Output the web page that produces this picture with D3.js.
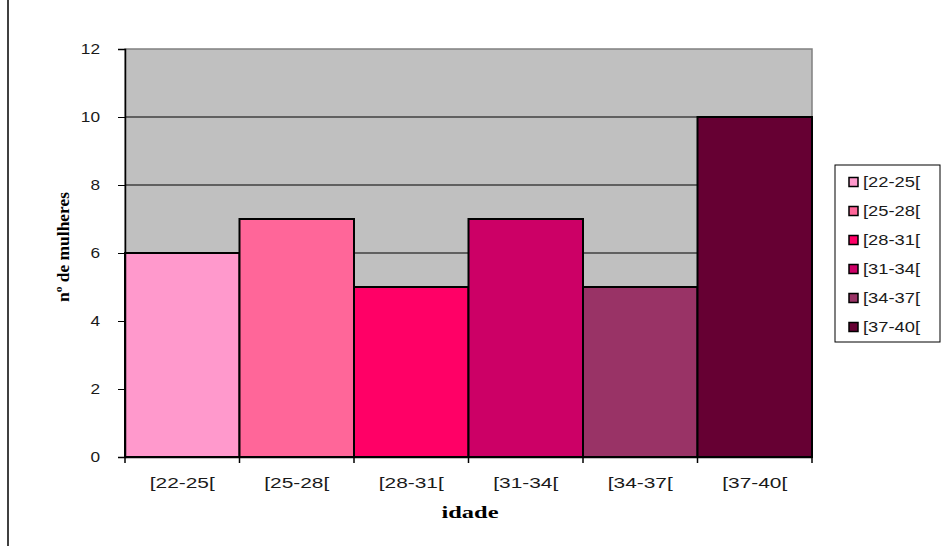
<!DOCTYPE html>
<html><head><meta charset="utf-8">
<script src="https://cdn.jsdelivr.net/npm/d3@7"></script>
<style>body{margin:0;background:#fff}svg{display:block}</style>
</head><body>
<script>
const categories = ["[22-25[", "[25-28[", "[28-31[", "[31-34[", "[34-37[", "[37-40["];
const values = [6, 7, 5, 7, 5, 10];
const colors = ["#FF99CC", "#FF6699", "#FF0066", "#CC0066", "#993366", "#660033"];
const yTicks = [0, 2, 4, 6, 8, 10, 12];

const W = 943, H = 546;
const svg = d3.select("body").append("svg").attr("width", W).attr("height", H);

// left border line
svg.append("line").attr("x1", 8).attr("x2", 8).attr("y1", 0).attr("y2", 546)
  .attr("stroke", "#000").attr("stroke-width", 1.5);

const L = 125, R = 812, T = 49, B = 457;
const x = d3.scaleBand().domain(categories).range([L, R]).padding(0);
const y = d3.scaleLinear().domain([0, 12]).range([B, T]);

// plot background
svg.append("rect").attr("x", L).attr("y", T).attr("width", R - L).attr("height", B - T)
  .attr("fill", "#C0C0C0").attr("stroke", "#808080").attr("stroke-width", 1.5);

// gridlines
svg.append("g").selectAll("line").data(yTicks.filter(d => d > 0 && d < 12)).join("line")
  .attr("x1", L).attr("x2", R).attr("y1", d => y(d)).attr("y2", d => y(d))
  .attr("stroke", "#000").attr("stroke-width", 1);

// bars
svg.append("g").selectAll("rect").data(values).join("rect")
  .attr("x", (d, i) => x(categories[i]))
  .attr("y", d => y(d))
  .attr("width", x.bandwidth())
  .attr("height", d => y(0) - y(d))
  .attr("fill", (d, i) => colors[i])
  .attr("stroke", "#000").attr("stroke-width", 2);

// y axis
const yAxis = svg.append("g").attr("transform", `translate(${L},0)`)
  .call(d3.axisLeft(y).tickValues(yTicks).tickSize(7).tickPadding(18));
yAxis.select(".domain").attr("stroke", "#000").attr("stroke-width", 1.5);
yAxis.selectAll(".tick line").attr("stroke", "#000");
yAxis.selectAll("text").attr("font-family", "Liberation Sans, Arial, sans-serif")
  .attr("font-size", 15).attr("fill", "#1a1a1a")
  .attr("transform", "scale(1.15,1)")
  .attr("x", -25 / 1.15);

// x axis
const xAxis = svg.append("g").attr("transform", `translate(0,${B})`)
  .call(d3.axisBottom(x).tickSize(0).tickPadding(20));
xAxis.select(".domain").attr("stroke", "#000").attr("stroke-width", 1.5);
xAxis.selectAll("text").attr("font-family", "Liberation Sans, Arial, sans-serif")
  .attr("font-size", 15).attr("fill", "#1a1a1a")
  .attr("textLength", 65).attr("lengthAdjust", "spacingAndGlyphs");
// boundary ticks
const bounds = categories.map(c => x(c)).concat([x(categories[categories.length - 1]) + x.bandwidth()]);
svg.append("g").selectAll("line").data(bounds).join("line")
  .attr("x1", d => d).attr("x2", d => d).attr("y1", B).attr("y2", B + 6)
  .attr("stroke", "#000").attr("stroke-width", 1.5);

// axis titles
svg.append("text").attr("x", 470).attr("y", 518).attr("text-anchor", "middle")
  .attr("font-family", "Liberation Serif, Times New Roman, serif").attr("font-weight", "bold")
  .attr("font-size", 17).attr("textLength", 57).attr("lengthAdjust", "spacingAndGlyphs")
  .text("idade");
svg.append("text").attr("transform", "translate(69,247) rotate(-90)").attr("text-anchor", "middle")
  .attr("font-family", "Liberation Serif, Times New Roman, serif").attr("font-weight", "bold")
  .attr("font-size", 17).attr("textLength", 110).attr("lengthAdjust", "spacingAndGlyphs")
  .text("nº de mulheres");

// legend
const lg = svg.append("g");
lg.append("rect").attr("x", 835).attr("y", 165).attr("width", 105).attr("height", 177)
  .attr("fill", "#fff").attr("stroke", "#000").attr("stroke-width", 1);
const items = lg.selectAll("g.item").data(categories).join("g")
  .attr("transform", (d, i) => `translate(0,${182 + i * 29})`);
items.append("rect").attr("x", 849).attr("y", -4.5).attr("width", 9).attr("height", 9)
  .attr("fill", (d, i) => colors[i]).attr("stroke", "#000").attr("stroke-width", 1.5);
items.append("text").attr("x", 863).attr("y", 5)
  .attr("font-family", "Liberation Sans, Arial, sans-serif").attr("font-size", 14).attr("fill", "#1a1a1a")
  .attr("textLength", 57).attr("lengthAdjust", "spacingAndGlyphs")
  .text(d => d);
</script>
</body></html>
